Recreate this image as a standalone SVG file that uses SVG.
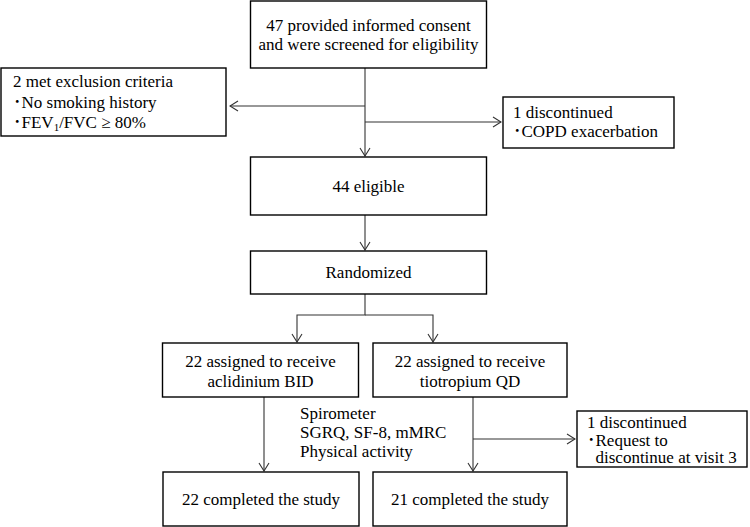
<svg xmlns="http://www.w3.org/2000/svg" width="750" height="527" viewBox="0 0 750 527">
<style>
.box{fill:#fff;stroke:#000;stroke-width:1.4}
.c{fill:none;stroke:#333;stroke-width:1.1}
.t{font-family:'Liberation Serif','Times New Roman',Tinos,'DejaVu Serif','Noto Sans CJK JP',serif;font-size:17px;fill:#000}
.m{text-anchor:middle}
</style>
<defs>
<marker id="ah" viewBox="0 0 10 12" refX="9" refY="6" markerWidth="10" markerHeight="12" markerUnits="userSpaceOnUse" orient="auto">
<polyline points="1,1 9,6 1,11" fill="none" stroke="#333" stroke-width="1.1"/>
</marker>
</defs>
<rect width="750" height="527" fill="#fff"/>
<g id="connectors">
<line class="c" x1="365" y1="68" x2="365" y2="156" marker-end="url(#ah)"/>
<line class="c" x1="365" y1="106" x2="230" y2="106" marker-end="url(#ah)"/>
<line class="c" x1="365" y1="122" x2="501" y2="122" marker-end="url(#ah)"/>
<line class="c" x1="365" y1="215" x2="365" y2="250" marker-end="url(#ah)"/>
<polyline class="c" points="365,294 365,315 297,315 297,342" marker-end="url(#ah)"/>
<polyline class="c" points="365,315 433,315 433,342" marker-end="url(#ah)"/>
<line class="c" x1="264" y1="397" x2="264" y2="471" marker-end="url(#ah)"/>
<line class="c" x1="473" y1="397" x2="473" y2="471" marker-end="url(#ah)"/>
<line class="c" x1="473" y1="439" x2="575" y2="439" marker-end="url(#ah)"/>
</g>
<g class="t">
<g id="screened">
<rect class="box" x="250.5" y="1" width="236" height="67"/>
<text class="m" x="368.5" y="31">47 provided informed consent</text>
<text class="m" x="368.5" y="50">and were screened for eligibility</text>
</g>
<g id="excluded">
<rect class="box" x="1" y="68" width="225" height="68"/>
<text x="13" y="87">2 met exclusion criteria</text>
<text x="13" y="108">･No smoking history</text>
<text x="13" y="128">･FEV<tspan font-size="11" dy="3">1</tspan><tspan dy="-3">/FVC ≥ 80%</tspan></text>
</g>
<g id="discontinued1">
<rect class="box" x="503" y="97" width="171" height="51"/>
<text x="513" y="118">1 discontinued</text>
<text x="513" y="137">･COPD exacerbation</text>
</g>
<g id="eligible">
<rect class="box" x="250.5" y="157" width="236" height="58"/>
<text class="m" x="368.5" y="192">44 eligible</text>
</g>
<g id="randomized">
<rect class="box" x="250.5" y="251" width="236" height="43"/>
<text class="m" x="368.5" y="278">Randomized</text>
</g>
<g id="aclidinium">
<rect class="box" x="162.5" y="343" width="196" height="54"/>
<text class="m" x="260.5" y="367">22 assigned to receive</text>
<text class="m" x="260.5" y="387">aclidinium BID</text>
</g>
<g id="tiotropium">
<rect class="box" x="373" y="343" width="194" height="54"/>
<text class="m" x="470" y="367">22 assigned to receive</text>
<text class="m" x="470" y="387">tiotropium QD</text>
</g>
<g id="assessments">
<text x="300" y="419">Spirometer</text>
<text x="300" y="438">SGRQ, SF-8, mMRC</text>
<text x="300" y="457">Physical activity</text>
</g>
<g id="completed1">
<rect class="box" x="163" y="472" width="196" height="54"/>
<text class="m" x="261" y="505">22 completed the study</text>
</g>
<g id="completed2">
<rect class="box" x="373" y="472" width="194" height="54"/>
<text class="m" x="470" y="505">21 completed the study</text>
</g>
<g id="discontinued2">
<rect class="box" x="577" y="411" width="170" height="56"/>
<text x="587" y="428">1 discontinued</text>
<text x="587" y="446">･Request to</text>
<text x="595.5" y="463">discontinue at visit 3</text>
</g>
</g>
</svg>
